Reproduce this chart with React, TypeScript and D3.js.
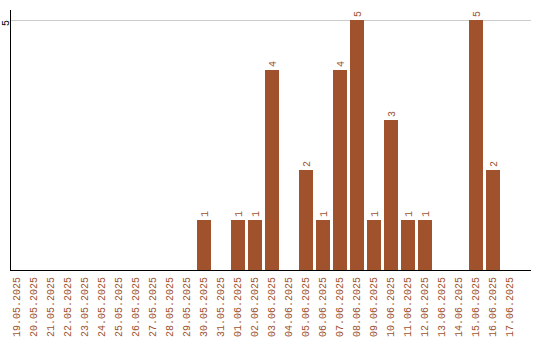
import React from "react";
import * as d3 from "d3";

const dates = [
  "19.05.2025", "20.05.2025", "21.05.2025", "22.05.2025", "23.05.2025",
  "24.05.2025", "25.05.2025", "26.05.2025", "27.05.2025", "28.05.2025",
  "29.05.2025", "30.05.2025", "31.05.2025", "01.06.2025", "02.06.2025",
  "03.06.2025", "04.06.2025", "05.06.2025", "06.06.2025", "07.06.2025",
  "08.06.2025", "09.06.2025", "10.06.2025", "11.06.2025", "12.06.2025",
  "13.06.2025", "14.06.2025", "15.06.2025", "16.06.2025", "17.06.2025",
];
const counts = [
  0, 0, 0, 0, 0,
  0, 0, 0, 0, 0,
  0, 1, 0, 1, 1,
  4, 0, 2, 1, 4,
  5, 1, 3, 1, 1,
  0, 0, 5, 2, 0,
];
const yTicks = [5];

const W = 540;
const H = 340;
const COLOR = "#a0522d";
const FONT = "'Liberation Mono', monospace";

export default function App() {
  const x = d3.scaleBand<string>().domain(dates).range([10, 517]).paddingInner(3 / 17).paddingOuter(0);
  const y = d3.scaleLinear().domain([0, 5]).range([270, 20]);
  const bw = x.bandwidth();

  return (
    <svg
      width={W}
      height={H}
      style={{ position: "absolute", left: 0, top: 0, display: "block", background: "#fff" }}
      shapeRendering="crispEdges"
    >
      {yTicks.map((t) => (
        <g key={t}>
          <line x1={11} x2={531} y1={y(t) + 0.5} y2={y(t) + 0.5} stroke="#cccccc" strokeWidth={1} />
          <text
            transform={`translate(5,${y(t)}) rotate(-90)`}
            textAnchor="end"
            dy="0.35em"
            fontFamily={FONT}
            fontSize={10}
            fill="#000"
          >
            {t}
          </text>
        </g>
      ))}
      {dates.map((d, i) => {
        const v = counts[i];
        const cx = (x(d) as number) + bw / 2;
        return (
          <g key={d}>
            {v > 0 && (
              <>
                <rect x={x(d)} y={y(v)} width={bw} height={y(0) - y(v)} fill={COLOR} />
                <text
                  transform={`translate(${cx},${y(v) - 3}) rotate(-90)`}
                  textAnchor="start"
                  dy="0.35em"
                  fontFamily={FONT}
                  fontSize={10}
                  fill={COLOR}
                >
                  {v}
                </text>
              </>
            )}
            <text
              transform={`translate(${cx - 1},277) rotate(-90)`}
              textAnchor="end"
              dy="0.35em"
              fontFamily={FONT}
              fontSize={10}
              fill={COLOR}
            >
              {d}
            </text>
          </g>
        );
      })}
      <line x1={10.5} x2={10.5} y1={10} y2={271} stroke="#000" strokeWidth={1} />
      <line x1={10} x2={531} y1={270.5} y2={270.5} stroke="#000" strokeWidth={1} />
    </svg>
  );
}
